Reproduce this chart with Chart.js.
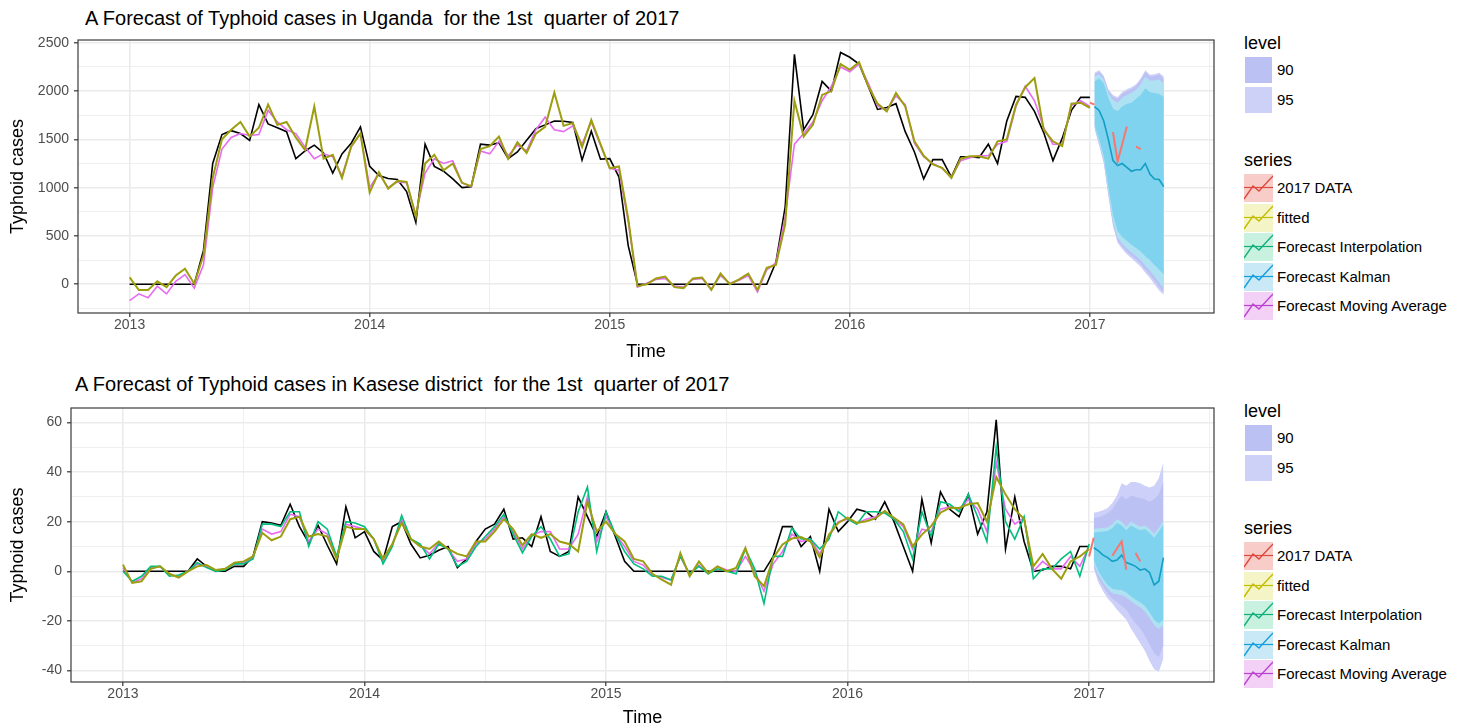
<!DOCTYPE html>
<html>
<head>
<meta charset="utf-8">
<title>Typhoid forecast</title>
<script src="https://cdn.jsdelivr.net/npm/chart.js@4.4.1/dist/chart.umd.min.js"></script>
<style>
  body { margin: 0; background: #fff; font-family: "Liberation Sans", Arial, Helvetica, sans-serif; }
  #page { position: relative; width: 1467px; height: 727px; overflow: hidden; }
  .ttl { position: absolute; font-size: 20px; line-height: 24px; color: #000; white-space: pre; }
  canvas { position: absolute; left: 0; }
  .lg { position: absolute; white-space: nowrap; color: #000; }
  .lg-head { font-size: 18px; line-height: 22px; }
  .lg-txt { font-size: 15px; line-height: 18px; }
  .lg svg { position: absolute; left: 0; top: 0; }
</style>
</head>
<body>
<div id="page">
  <div class="ttl" style="left:85px; top:6px;">A Forecast of Typhoid cases in Uganda  for the 1st  quarter of 2017</div>
  <div class="ttl" style="left:75px; top:372px;">A Forecast of Typhoid cases in Kasese district  for the 1st  quarter of 2017</div>
  <canvas id="ugChart" width="1222" height="362" style="top:0px;"></canvas>
  <canvas id="ksChart" width="1222" height="365" style="top:362px;"></canvas>
</div>
<script>
// ---- time axis: fortnightly history from 2013, weekly forecast after 2017
var histStart = 2013;
var histPerYear = 26;
var fcWeeks = [1, 2, 3, 4, 5, 6, 7, 8, 9, 10, 11, 12, 13, 14, 15, 16];
var obsWeeks = [0, 1, 2, 3, 4, 5, 6, 7, 8, 9, 10, 11, 12, 13, 14, 15, 16];

// ---- Uganda
var ugActual = [0, 0, 0, 0, 0, 0, 0, 0, 350, 1250, 1550, 1590, 1560, 1490, 1860, 1660, 1620, 1580, 1300, 1380, 1440, 1360, 1150, 1350, 1460, 1630, 1220,
    1125, 1095, 1085, 960, 640, 1450, 1220, 1170, 1090, 1000, 1010, 1450, 1440, 1465, 1300, 1370, 1490, 1610, 1650, 1690, 1688, 1675, 1285, 1585, 1295, 1300, 1110, 400, 0,
    0, 0, 0, 0, 0, 0, 0, 0, 0, 0, 0, 0, 0, 0,
    230, 800, 2380, 1600, 1755, 2100, 2000, 2400, 2350, 2280, 2050, 1810, 1830, 1870, 1580, 1370, 1090, 1290, 1290, 1110,
    1320, 1320, 1310, 1450, 1250, 1690, 1945, 1935, 1790, 1570, 1280, 1510, 1800, 1935, 1935];
var ugFitted = [70, -60, -60, 30, -30, 90, 160, 5, 300, 1100, 1500, 1600, 1680, 1530, 1620, 1860, 1650, 1680, 1520, 1390, 1840, 1300, 1340, 1100, 1430, 1560, 950,
    1160, 990, 1070, 1060, 700, 1250, 1340, 1180, 1250, 1050, 1015, 1400, 1430, 1530, 1300, 1470, 1360, 1560, 1630, 1985, 1640, 1670, 1420, 1700, 1450, 1200, 1220, 680, -20, 0, 60, 80,
    -30, -40, 60, 70, -60, 110, 0, 50, 110, -60, 170, 200, 620, 1900, 1530, 1650, 1960, 2000, 2280, 2220, 2300, 2050, 1870, 1790, 1980, 1840, 1480, 1330, 1240, 1205, 1100,
    1300, 1325, 1325, 1300, 1480, 1500, 1860, 2040, 2135, 1600, 1480, 1430, 1870, 1880, 1825];
var ugMovAvg = [-170, -100, -140, -20, -100, 30, 100, -40, 200, 1000, 1400, 1520, 1560, 1540, 1550, 1800, 1680, 1600, 1560, 1420, 1300, 1350, 1320, 1120, 1420, 1560, 1000,
    1150, 1000, 1060, 1050, 720, 1150, 1300, 1250, 1280, 1050, 1010, 1380, 1350, 1480, 1330, 1440, 1380, 1600, 1730, 1600, 1580, 1640, 1450, 1680, 1440, 1200, 1180, 650, -30, 10, 50, 60,
    -20, -30, 50, 60, -50, 90, 10, 40, 90, -80, 150, 220, 700, 1450, 1560, 1680, 1900, 2050, 2250, 2200, 2280, 2080, 1850, 1800, 1950, 1860, 1460, 1320, 1250, 1200, 1110,
    1280, 1310, 1330, 1330, 1450, 1480, 1840, 2050, 1900, 1620, 1450, 1450, 1850, 1900, 1840];
var ugKalman = [1840, 1800, 1690, 1500, 1280, 1230, 1250, 1210, 1170, 1185, 1185, 1250, 1140, 1090, 1085, 1010];
var ugObs2017 = [1880, 1860, null, null, null, 1575, 1271, 1450, 1632, null, 1425, 1398, null, null, null, null, null];
var ugHi95 = [2190, 2215, 2160, 2020, 1960, 1935, 1990, 2020, 2040, 2070, 2130, 2215, 2170, 2175, 2190, 2150];
var ugHi90 = [2175, 2200, 2145, 2003, 1942, 1917, 1972, 2002, 2022, 2052, 2112, 2197, 2152, 2157, 2172, 2132];
var ugHiLight = [2150, 2175, 2120, 1975, 1910, 1880, 1930, 1960, 1980, 2010, 2070, 2150, 2110, 2110, 2120, 2080];
var ugHiCyan = [2100, 2130, 2080, 1930, 1820, 1790, 1840, 1870, 1880, 1920, 1960, 2030, 1990, 1980, 1970, 1940];
var ugLoCyan = [1650, 1500, 1330, 1013, 720, 550, 490, 450, 410, 375, 340, 290, 250, 200, 150, 100];
var ugLoLight = [1630, 1470, 1290, 960, 650, 480, 420, 370, 330, 290, 250, 190, 140, 80, 20, -50];
var ugLo90 = [1620, 1455, 1270, 935, 620, 450, 390, 335, 295, 255, 210, 150, 95, 35, -30, -85];
var ugLo95 = [1610, 1440, 1255, 915, 600, 430, 365, 310, 270, 225, 180, 120, 65, 0, -65, -110];

// ---- Kasese
var ksActual = [0, 0, 0, 0, 0, 0, 0, 0, 5, 2, 0, 0, 2, 2, 6, 20, 19.5, 18.5, 27, 18, 11.5, 18.5, 10.5, 3, 26, 13.5, 16,
    8, 4.5, 18, 20, 11, 5.4, 6.5, 8.5, 10, 1.5, 5, 12, 17, 19, 25, 13, 13.5, 10, 22, 8, 6, 8, 30, 22, 14, 24, 14, 4, 0, 0, 0, 0,
    0, 0, 0, 0, 0, 0, 0, 0, 0, 0, 0,
    6, 18, 18, 10, 14, 0, 25, 16, 20, 25, 24, 21, 28, 20, 10, 0, 29, 11.5, 32, 25,
    22, 31, 15, 24, 61, 9, 30, 12, 0, 0.5, 2, 2, 1, 10, 10];
var ksFitted = [2.7, -4.7, -4, 1, 2, -1, -2.5, 0, 2, 2.5, 0.5, 1, 3.5, 4, 6, 15.5, 12.5, 14, 21, 22, 14, 15, 14, 5, 18, 17, 17,
    13, 5, 11, 19.5, 13, 10, 9, 12, 9, 7, 6, 12, 12, 16, 21, 17, 10.5, 15, 13.5, 15, 12, 11, 8, 28, 16, 20, 15, 12, 5, 4, -1,
    -3.4, -5.4, 7.4, -2, 4, -0.7, 2, 0, 1.4, 9.4, -2, -6, 5.4, 10.8, 13.2, 13.8, 12, 5.7, 14.8, 19.5, 21.6, 19.5, 20.2, 21.3, 24.3, 21.6, 18.9, 10.1, 14.8, 18.2, 23.6, 25.6,
    25.5, 27, 27.5, 20, 38, 31, 25, 21, 2, 7, 1, -3, 4, 6, 9];
var ksInterp = [0, -4, -2, 2, 2, -2, -1.5, 0, 3.5, 1.5, 0, 0.5, 3, 3, 5, 19, 19, 18, 24, 24, 10, 20, 17, 6, 20, 19.5, 18,
    13, 3, 10, 22.5, 13, 11, 5, 11, 9, 2, 4, 10, 14, 18, 23, 15, 7.5, 14, 18, 13, 6, 7, 24, 34, 8, 24, 15, 8, 3, 1, -2, -2,
    -3.5, 6, -1, 2, -1, 1, 0, -1, 9, 1, -13, 6, 6, 17.5, 13, 13, 9, 13, 24, 21, 19, 24, 24, 23.5, 21, 16, 5, 24, 14, 28, 27,
    24, 31, 22, 12, 50, 20, 13, 22, -3, 1, 1, 5, 8, -2, 11];
var ksMovAvg = [1.5, -4.5, -3, 1.5, 2, -1.5, -2, 0, 3, 2, 0, 1, 3, 3.5, 5.5, 17, 15, 16, 23, 22, 12, 17, 15, 5.5, 19, 18, 17,
    13, 4, 11, 21, 13, 10.5, 7, 11.5, 9, 4, 5, 11, 13, 17, 22, 16, 9, 14.5, 16, 16, 9, 9, 15, 30, 12, 22, 15, 10, 4, 2.5, -1.5, -2.5,
    -3.5, 6, -1.5, 2.5, -1, 2, 0.5, 0, 6, 0, -8, 3, 8, 15, 12, 13, 7, 14, 20, 21, 19.5, 21, 22, 24, 21, 18, 9, 17, 16, 25, 26,
    25, 29, 25, 16, 44, 25, 19, 21.5, 0, 4, 1, 1, 6, 2, 10];
var ksKalman = [9.5, 8.2, 6.5, 5.5, 4.0, 4.5, 6.5, 3.5, 2.8, 2.0, 0.5, 1.0, -0.5, -5.5, -4.0, 5.5];
var ksObs2017 = [6, 13.5, null, null, null, 6.3, 9.2, 12, 0.7, null, 7.4, 4.0, null, null, null, null, null];
var ksHi95 = [23.6, 24.0, 24.6, 25.5, 27.5, 30.5, 35.5, 34.5, 36.0, 36.0, 35.5, 34.5, 33.8, 34.5, 37.5, 44];
var ksHi90 = [21.5, 21.8, 22.5, 23.5, 25.0, 28.0, 30.5, 29.0, 30.5, 30.0, 29.5, 29.0, 28.0, 29.0, 31.0, 36.0];
var ksHiLight = [17.0, 17.3, 17.5, 17.7, 19.0, 21.0, 20.0, 18.0, 20.0, 19.0, 18.0, 18.5, 17.0, 15.0, 17.5, 20.5];
var ksHiCyan = [15.5, 15.8, 16.0, 16.2, 17.5, 19.5, 18.5, 16.5, 18.5, 17.5, 16.5, 17.0, 15.5, 13.5, 16.0, 19.0];
var ksLoCyan = [4.5, 0.0, -3.0, -5.5, -7.0, -7.4, -7.5, -8.5, -10.0, -11.5, -12.5, -14.0, -16.5, -19.5, -21.0, -19.5];
var ksLoLight = [3.0, -1.5, -4.5, -7.0, -8.8, -9.2, -9.5, -10.5, -12.0, -13.5, -14.5, -16.2, -18.7, -21.7, -23.2, -21.5];
var ksLo90 = [2.0, -3.0, -6.0, -9.0, -11, -12.5, -14, -15.5, -18.5, -21, -23, -26, -29.5, -33, -34.5, -30];
var ksLo95 = [1.0, -4.5, -8.0, -11.0, -13.0, -15.5, -17.5, -19.5, -23.0, -26.0, -29.0, -32.0, -36.0, -39.5, -40.5, -35.0];

// ---- legend entries
var levelNames = ['90', '95'];
var seriesNames = ['2017 DATA', 'fitted', 'Forecast Interpolation', 'Forecast Kalman', 'Forecast Moving Average'];

var colRed = '#F8766D', colFitted = '#A3A500', colInterp = '#00BF7D', colKalman = '#00B0F6', colMA = '#E76BF3';
var keyLineColors = ['#dc4a3e', '#c2bd00', '#10b07e', '#149fd9', '#b944cf'];
var keyFillColors = ['#f8cdc9', '#f4f4c6', '#c9f1df', '#cae9f6', '#f3d0f6'];
var levelColors = ['#bcc1f3', '#cdd1f8'];

Chart.defaults.font.family = '"Liberation Sans", Arial, Helvetica, sans-serif';

function histPoints(vals) {
    return vals.map(function (v, i) { return { x: histStart + i / histPerYear, y: v }; });
}
function fcPoints(weeks, vals) {
    return weeks.map(function (w, i) { return { x: 2017 + w / 52, y: vals[i] }; });
}
function lineDs(data, color, width) {
    return { data: data, borderColor: color, borderWidth: width, pointRadius: 0, fill: false, tension: 0, spanGaps: false };
}
function edgeDs(data, fillTo, color) {
    return {
        data: data, borderColor: 'rgba(0,0,0,0)', borderWidth: 1, pointRadius: 0, tension: 0,
        fill: fillTo === null ? false : fillTo, backgroundColor: color || 'rgba(0,0,0,0)'
    };
}

// lines first (index 0 is drawn on top), then band pairs innermost first
function buildDatasets(p) {
    var ds = [];
    ds.push(lineDs(fcPoints(obsWeeks, p.obs), colRed, 2));
    ds.push(lineDs(fcPoints(fcWeeks, p.kalman), '#139fc4', 1.6));
    ds.push(lineDs(histPoints(p.fitted), '#9c9e0e', 2));
    if (p.interp) ds.push(lineDs(histPoints(p.interp), colInterp, 1.6));
    ds.push(lineDs(histPoints(p.movAvg), colMA, 1.6));
    ds.push(lineDs(histPoints(p.actual), '#000000', 1.6));
    var bands = [
        [p.hiCyan, p.loCyan, '#7fd3ee'],
        [p.hiLight, p.loLight, '#aee2f3'],
        [p.hi90, p.lo90, '#bcc1f4'],
        [p.hi95, p.lo95, '#cdd0f8']
    ];
    bands.forEach(function (b) {
        var upIdx = ds.length;
        ds.push(edgeDs(fcPoints(fcWeeks, b[0]), upIdx + 1, b[2]));
        ds.push(edgeDs(fcPoints(fcWeeks, b[1]), null));
    });
    return ds;
}

function stepTicks(lo, hi, step) {
    var t = [];
    for (var v = lo; v <= hi + 1e-9; v += step) t.push({ value: Math.round(v * 1000) / 1000 });
    return t;
}

var panelBorder = {
    id: 'panelBorder',
    afterDraw: function (chart) {
        var a = chart.chartArea, c = chart.ctx;
        c.save();
        c.strokeStyle = '#3a3a3a';
        c.lineWidth = 1.2;
        c.strokeRect(a.left, a.top, a.right - a.left, a.bottom - a.top);
        c.restore();
    }
};

function makeChart(id, p) {
    var isMajorY = function (v) { return Math.abs(v % p.yMajor) < 1e-6; };
    var isMajorX = function (v) { return Math.abs(v % 1) < 1e-6; };
    return new Chart(document.getElementById(id), {
        type: 'line',
        data: { datasets: buildDatasets(p) },
        plugins: [panelBorder],
        options: {
            responsive: false,
            devicePixelRatio: 1,
            animation: false,
            events: [],
            layout: { padding: { top: p.padTop, right: 8, left: 0, bottom: 0 } },
            plugins: { legend: { display: false }, tooltip: { enabled: false } },
            scales: {
                x: {
                    type: 'linear',
                    min: 2012.785, max: 2017.517,
                    afterBuildTicks: function (axis) { axis.ticks = stepTicks(2013, 2017.5, 0.5); },
                    afterFit: function (scale) { scale.height = p.xHeight; },
                    border: { display: false },
                    grid: {
                        color: '#ebebeb',
                        lineWidth: function (ctx) { return ctx.tick && isMajorX(ctx.tick.value) ? 1.6 : 0.8; },
                        tickLength: 4,
                        tickWidth: 1.2,
                        tickColor: function (ctx) { return ctx.tick && isMajorX(ctx.tick.value) ? '#333' : 'rgba(0,0,0,0)'; }
                    },
                    ticks: {
                        autoSkip: false, maxRotation: 0, padding: 0,
                        color: '#4d4d4d', font: { size: 14 },
                        callback: function (v) { return isMajorX(v) ? String(Math.round(v)) : ''; }
                    },
                    title: { display: true, text: 'Time', color: '#000', font: { size: 18 }, padding: { top: 0, bottom: p.timePad } }
                },
                y: {
                    min: p.yMin, max: p.yMax,
                    afterBuildTicks: function (axis) { axis.ticks = stepTicks(p.yFirst, p.yLast, p.yMajor / 2); },
                    afterFit: function (scale) { scale.width = p.yWidth; },
                    border: { display: false },
                    grid: {
                        color: '#ebebeb',
                        lineWidth: function (ctx) { return ctx.tick && isMajorY(ctx.tick.value) ? 1.6 : 0.8; },
                        tickLength: 4,
                        tickWidth: 1.2,
                        tickColor: function (ctx) { return ctx.tick && isMajorY(ctx.tick.value) ? '#333' : 'rgba(0,0,0,0)'; }
                    },
                    ticks: {
                        autoSkip: false, padding: 5,
                        color: '#4d4d4d', font: { size: 14 },
                        callback: function (v) { return isMajorY(v) ? String(v) : ''; }
                    },
                    title: { display: true, text: 'Typhoid cases', color: '#000', font: { size: 18 }, padding: { top: 7, bottom: 0 } }
                }
            }
        }
    });
}

makeChart('ugChart', {
    actual: ugActual, fitted: ugFitted, movAvg: ugMovAvg, interp: null,
    kalman: ugKalman, obs: ugObs2017,
    hi95: ugHi95, lo95: ugLo95, hi90: ugHi90, lo90: ugLo90,
    hiLight: ugHiLight, loLight: ugLoLight, hiCyan: ugHiCyan, loCyan: ugLoCyan,
    yMin: -298, yMax: 2529, yFirst: -250, yLast: 2500, yMajor: 500,
    padTop: 40, xHeight: 49, yWidth: 78, timePad: -1
});

makeChart('ksChart', {
    actual: ksActual, fitted: ksFitted, movAvg: ksMovAvg, interp: ksInterp,
    kalman: ksKalman, obs: ksObs2017,
    hi95: ksHi95, lo95: ksLo95, hi90: ksHi90, lo90: ksLo90,
    hiLight: ksHiLight, loLight: ksLoLight, hiCyan: ksHiCyan, loCyan: ksLoCyan,
    yMin: -44.6, yMax: 65.8, yFirst: -40, yLast: 60, yMajor: 20,
    padTop: 46, xHeight: 45, yWidth: 71, timePad: -2
});

// ---- ggplot style legends on the right
function keyIcon(i) {
    var line = keyLineColors[i];
    return '<svg width="29" height="28">' +
        '<rect width="29" height="28" fill="' + keyFillColors[i] + '"/>' +
        '<line x1="0" y1="13.5" x2="29" y2="13.5" stroke="' + line + '" stroke-width="1.2"/>' +
        '<polyline points="0,25 9,12 15,17 29,2" fill="none" stroke="' + line + '" stroke-width="1.4"/>' +
        '</svg>';
}
function addBox(html, cls, left, top, extra) {
    var d = document.createElement('div');
    d.className = 'lg ' + cls;
    d.style.left = left + 'px';
    d.style.top = top + 'px';
    if (extra) d.style.cssText += extra;
    d.innerHTML = html;
    document.getElementById('page').appendChild(d);
}
function buildLegend(dy) {
    var x0 = 1244;
    addBox('level', 'lg-head', x0, 32 + dy);
    levelNames.forEach(function (name, i) {
        var top = 57 + i * 30 + dy;
        addBox('', '', x0 + 1, top, 'width:27px;height:26px;background:' + levelColors[i] + ';');
        addBox(name, 'lg-txt', x0 + 33, top + 4);
    });
    addBox('series', 'lg-head', x0, 149 + dy);
    seriesNames.forEach(function (name, i) {
        var top = 174 + i * 29.5 + dy;
        addBox(keyIcon(i), '', x0, top, 'width:29px;height:28px;');
        addBox(name, 'lg-txt', x0 + 33, top + 5);
    });
}
buildLegend(0);
buildLegend(368);
</script>
</body>
</html>
